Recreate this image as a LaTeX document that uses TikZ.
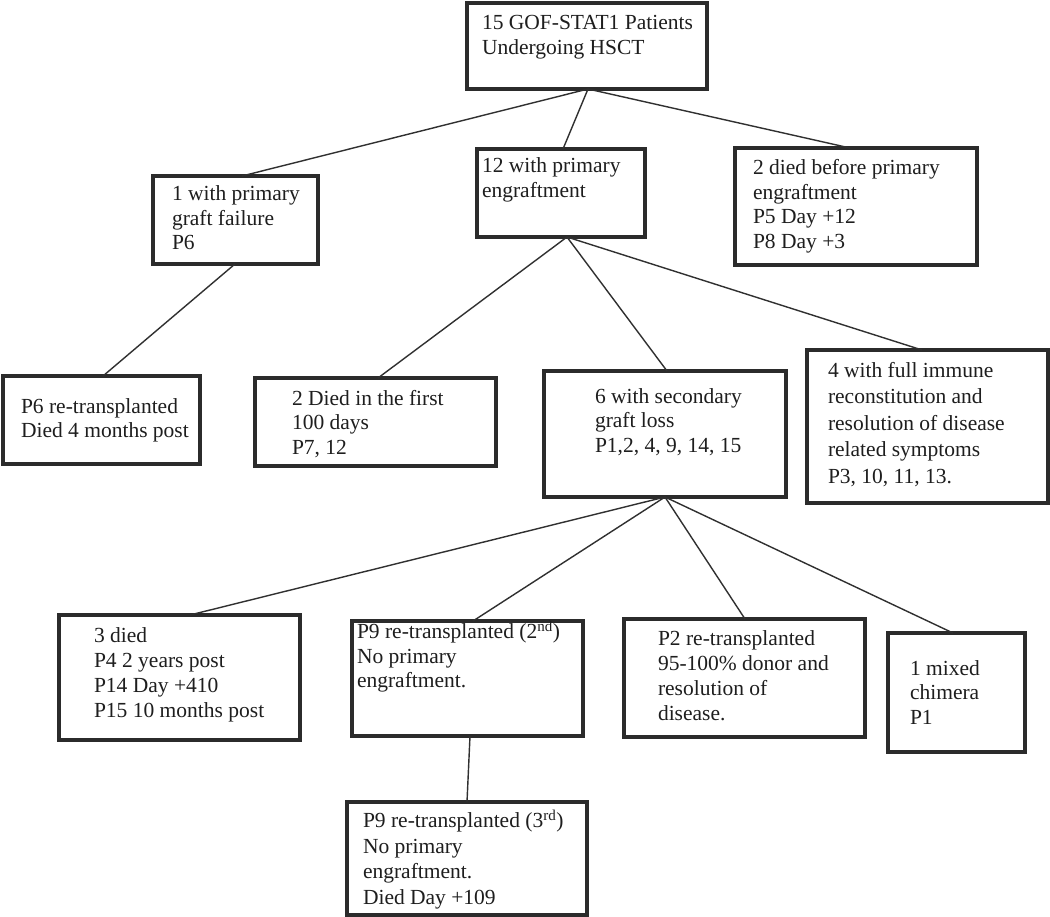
\documentclass[tikz,border=0pt]{standalone}
\usepackage{fontspec}
\setmainfont{Liberation Serif}
\usetikzlibrary{calc}
\definecolor{boxline}{HTML}{2B2B2B}
\definecolor{conline}{HTML}{303030}
\definecolor{txtcol}{HTML}{1E1E1E}
\tikzset{
  box/.style={draw=boxline, line width=3.4pt, rectangle, inner sep=0pt, outer sep=0pt, anchor=north west, fill=white},
  txt/.style={anchor=north west, inner sep=0pt, outer sep=0pt, align=left, text=txtcol, font=\fontsize{21.5}{24.5}\selectfont},
  con/.style={draw=conline, line width=1.4pt},
}
\newcommand{\fl}{\rule{0pt}{17pt}}
\begin{document}
\begin{tikzpicture}[x=1pt,y=-1pt]
\useasboundingbox[fill=white] (0,0) rectangle (1050,917);
% boxes
\node[box, minimum width=240pt, minimum height=86pt]  (A) at (467,3) {};
\node[box, minimum width=165pt, minimum height=88pt]  (B) at (153,176) {};
\node[box, minimum width=168pt, minimum height=88pt]  (C) at (477,149) {};
\node[box, minimum width=242pt, minimum height=117pt] (D) at (735,148) {};
\node[box, minimum width=197pt, minimum height=88pt]  (E) at (3,376) {};
\node[box, minimum width=241pt, minimum height=88pt]  (F) at (255,378) {};
\node[box, minimum width=242pt, minimum height=126pt] (G) at (544,371) {};
\node[box, minimum width=241pt, minimum height=153pt] (H) at (807,350) {};
\node[box, minimum width=241pt, minimum height=125pt] (I) at (59,615) {};
\node[box, minimum width=231pt, minimum height=115pt] (J) at (352,621) {};
\node[box, minimum width=241pt, minimum height=118pt] (K) at (624,619) {};
\node[box, minimum width=137pt, minimum height=119pt] (L) at (888,633) {};
\node[box, minimum width=240pt, minimum height=113pt] (M) at (347,802) {};
% texts
\node[txt] (tA) at (482,13) {\fl 15 GOF-STAT1 Patients\\Undergoing HSCT};
\node[txt] (tB) at (172,184) {\fl 1 with primary\\graft failure\\P6};
\node[txt] (tC) at (482,156) {\fl 12 with primary\\engraftment};
\node[txt] (tD) at (753,158) {\fl 2 died before primary\\engraftment\\P5 Day +12\\P8 Day +3};
\node[txt] (tE) at (21,396) {\fl P6 re-transplanted\\Died 4 months post};
\node[txt] (tF) at (292,388) {\fl 2 Died in the first\\100 days\\P7, 12};
\node[txt] (tG) at (595,386) {\fl 6 with secondary\\graft loss\\P1,2, 4, 9, 14, 15};
\node[txt, font=\fontsize{21.5}{26.5}\selectfont] (tH) at (828,360) {\fl 4 with full immune\\reconstitution and\\resolution of disease\\related symptoms\\P3, 10, 11, 13.};
\node[txt, font=\fontsize{21.5}{25}\selectfont] (tI) at (94,625) {\fl 3 died\\P4 2 years post\\P14 Day +410\\P15 10 months post};
\node[txt] (tJ) at (357,621) {\fl P9 re-transplanted (2\textsuperscript{nd})\\No primary\\engraftment.};
\node[txt, font=\fontsize{21.5}{25}\selectfont] (tK) at (658,628) {\fl P2 re-transplanted\\95-100\% donor and\\resolution of\\disease.};
\node[txt] (tL) at (910,658) {\fl 1 mixed\\chimera\\P1};
\node[txt, font=\fontsize{21.5}{25.5}\selectfont] (tM) at (363,810) {\fl P9 re-transplanted (3\textsuperscript{rd})\\No primary\\engraftment.\\Died Day +109};
% connectors
\draw[con] ($(A.south west)+(121,0)$) -- ($(B.north west)+(89,0)$);
\draw[con] ($(A.south west)+(121,0)$) -- ($(C.north west)+(86,0)$);
\draw[con] ($(A.south west)+(121,0)$) -- ($(D.north west)+(115,0)$);
\draw[con] ($(B.south west)+(82,0)$) -- ($(E.north west)+(100,0)$);
\draw[con] ($(C.south west)+(90,0)$) -- ($(F.north west)+(123,0)$);
\draw[con] ($(C.south west)+(90,0)$) -- ($(G.north west)+(123,0)$);
\draw[con] ($(C.south west)+(90,0)$) -- ($(H.north west)+(115,0)$);
\draw[con] ($(G.south west)+(121,0)$) -- ($(I.north west)+(131,0)$);
\draw[con] ($(G.south west)+(121,0)$) -- ($(J.north west)+(121,0)$);
\draw[con] ($(G.south west)+(121,0)$) -- ($(K.north west)+(121,0)$);
\draw[con] ($(G.south west)+(121,0)$) -- ($(L.north west)+(65,0)$);
\draw[con] ($(J.south west)+(118,0)$) -- ($(M.north west)+(120,0)$);
\end{tikzpicture}
\end{document}
